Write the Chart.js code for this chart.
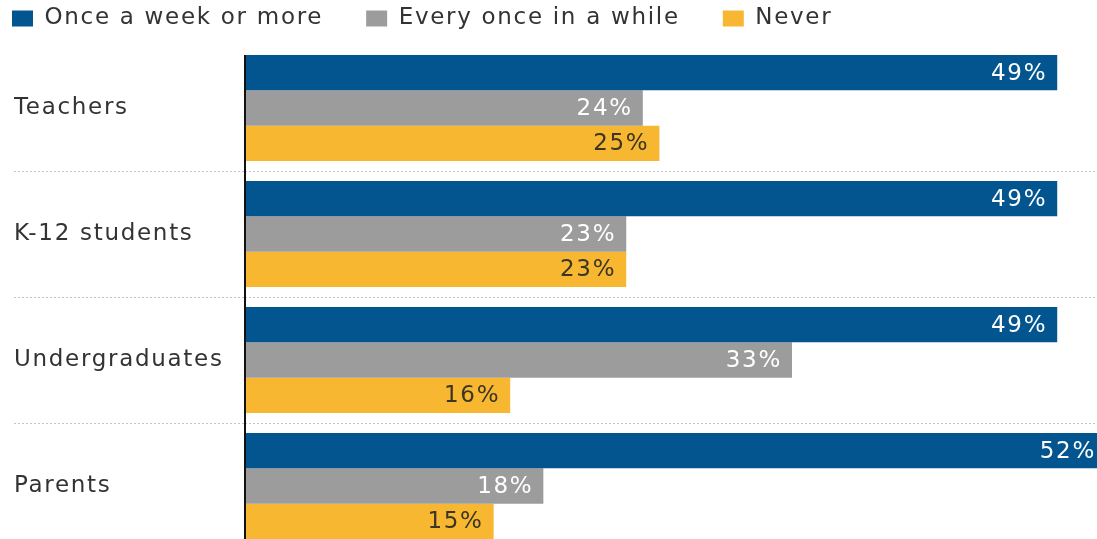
<!DOCTYPE html>
<html>
<head>
<meta charset="utf-8">
<script src="https://cdn.jsdelivr.net/npm/chart.js@4/dist/chart.umd.min.js"></script>
<style>
  html, body { margin: 0; padding: 0; background: #fff; overflow: hidden; }
  canvas { display: block; }
</style>
</head>
<body>
<canvas id="myChart" width="1097" height="549"></canvas>
<script>
var groups = ['Teachers', 'K-12 students', 'Undergraduates', 'Parents']
var seriesNames = ['Once a week or more', 'Every once in a while', 'Never']
var weekly = [49, 49, 49, 52]
var sometimes = [24, 23, 33, 18]
var never = [25, 23, 16, 15]
var barColors = ['#02558f', '#9c9c9c', '#f7b731']
var labelColors = ['#ffffff', '#ffffff', '#3b3526']

var fontName = '"DejaVu Sans", "Noto Sans", sans-serif'

// wider text like the original typeface
var spacing = {
    id: 'spacing',
    beforeUpdate: function(chart) { chart.ctx.letterSpacing = '1.7px' },
    beforeDraw: function(chart) { chart.ctx.letterSpacing = '1.7px' }
}

// value labels inside bar ends
var barLabels = {
    id: 'barLabels',
    afterDatasetsDraw: function(chart) {
        var ctx = chart.ctx
        var area = chart.chartArea
        ctx.save()
        ctx.font = '23px ' + fontName
        ctx.textAlign = 'right'
        ctx.textBaseline = 'middle'
        chart.data.datasets.forEach(function(ds, i) {
            var meta = chart.getDatasetMeta(i)
            meta.data.forEach(function(bar, j) {
                var x = Math.min(bar.x - 10, area.right - 1)
                ctx.fillStyle = labelColors[i]
                ctx.fillText(ds.data[j] + '%', x, bar.y + 1)
            })
        })
        // axis line from top of first bar down
        var first = chart.getDatasetMeta(0).data[0]
        var x0 = chart.scales.x.getPixelForValue(0)
        ctx.strokeStyle = '#111'
        ctx.lineWidth = 2
        ctx.beginPath()
        ctx.moveTo(x0, first.y - first.height / 2)
        ctx.lineTo(x0, area.bottom)
        ctx.stroke()
        ctx.restore()
    }
}

// move legend to the top-left corner
var legendShift = {
    id: 'legendShift',
    afterLayout: function(chart) {
        chart.legend.left -= 45
        chart.legend.top -= 36
    }
}

function setChart(){
    let myChart1 = document.getElementById("myChart").getContext('2d');
    let chart1 = new Chart(myChart1, {
        type: 'bar',
        data: {
            labels: groups,
            datasets: [{
                label: seriesNames[0],
                data: weekly,
                backgroundColor: barColors[0]
            }, {
                label: seriesNames[1],
                data: sometimes,
                backgroundColor: barColors[1]
            }, {
                label: seriesNames[2],
                data: never,
                backgroundColor: barColors[2]
            }]
        },
        options: {
            indexAxis: 'y',
            responsive: false,
            animation: false,
            devicePixelRatio: 1,
            categoryPercentage: 0.84,
            barPercentage: 1,
            layout: { padding: { left: 14, right: 0, top: 0, bottom: 0 } },
            plugins: {
                tooltip: { enabled: false },
                legend: {
                    display: true,
                    position: 'top',
                    align: 'start',
                    maxHeight: 45,
                    labels: {
                        boxWidth: 21,
                        boxHeight: 16,
                        padding: 43,
                        color: '#333',
                        font: { family: fontName, size: 23 }
                    }
                }
            },
            scales: {
                x: {
                    display: false,
                    min: 0,
                    max: 51.4
                },
                y: {
                    afterFit: function(scale) {
                        scale.width = 231
                        scale.paddingTop = 0
                        scale.paddingBottom = 0
                    },
                    border: { display: false, dash: [2, 2] },
                    grid: {
                        offset: true,
                        tickLength: 231,
                        tickBorderDash: [2, 2],
                        color: function(c) { return c.index === 0 ? 'rgba(0,0,0,0)' : '#c4c4c4' },
                        tickColor: function(c) { return c.index === 0 ? 'rgba(0,0,0,0)' : '#c4c4c4' },
                        lineWidth: 1
                    },
                    ticks: {
                        crossAlign: 'far',
                        padding: 0,
                        color: '#333',
                        font: { family: fontName, size: 23 }
                    }
                }
            }
        },
        plugins: [spacing, barLabels, legendShift]
    });
}

setChart()
</script>
</body>
</html>
